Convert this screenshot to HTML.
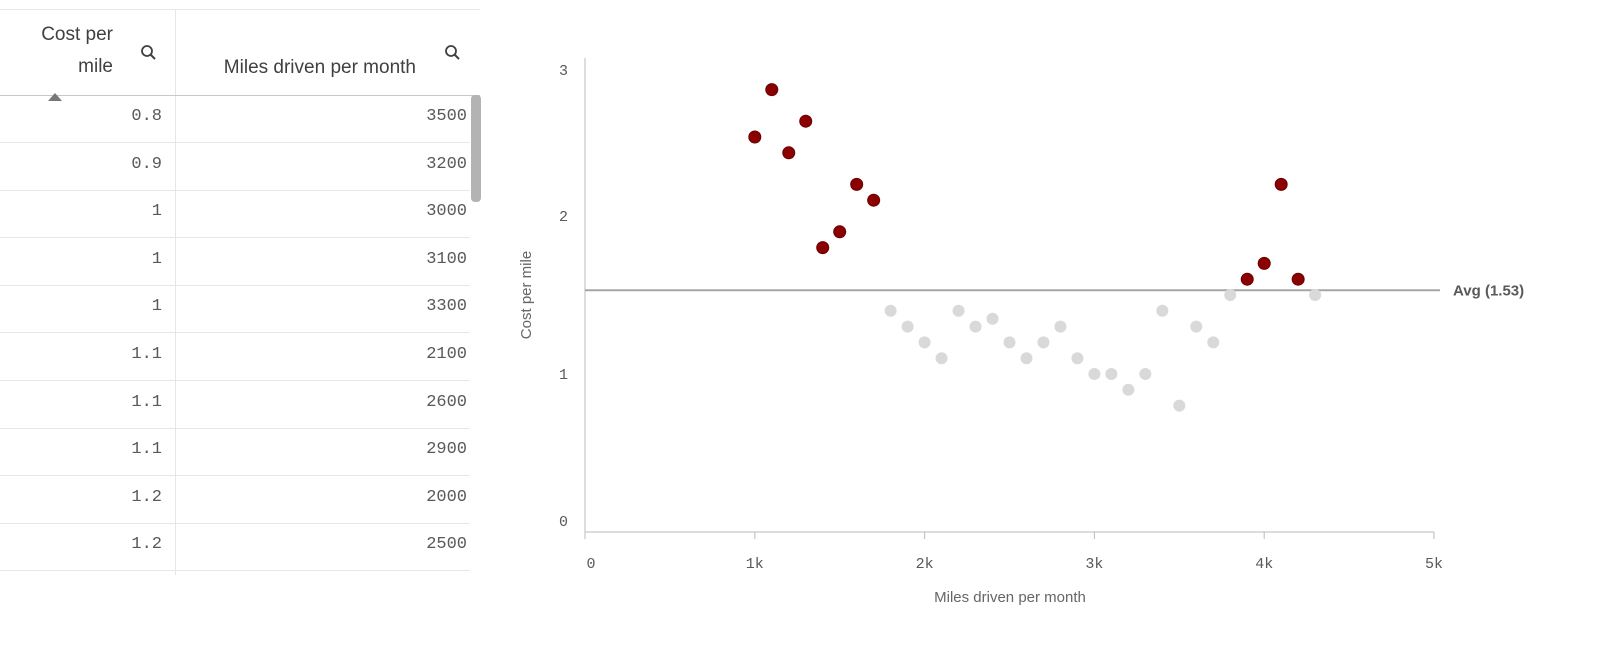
<!DOCTYPE html>
<html><head><meta charset="utf-8"><style>
body{margin:0;width:1612px;height:650px;background:#fff;position:relative;overflow:hidden;font-family:"Liberation Sans",sans-serif;}
.hl{position:absolute;height:1px;background:#e6e6e6;}
.cell{position:absolute;font-family:"Liberation Mono",monospace;font-size:17px;color:#595959;text-align:right;}
.hd{position:absolute;font-size:19px;color:#404040;text-align:right;line-height:32px;}
</style></head><body>
<div>
<div class="hl" style="left:0;top:9px;width:480px;"></div>
<div style="position:absolute;left:175px;top:9px;width:1px;height:566px;background:#e6e6e6"></div>
<div style="position:absolute;left:0;top:95px;width:480px;height:1px;background:#c8c8c8"></div>
<div class="hd" style="left:0;width:113px;top:19px">Cost per<br>mile</div>
<div class="hd" style="left:180px;width:236px;top:52px">Miles driven per month</div>
<svg style="position:absolute;left:140px;top:44px" width="18" height="18"><circle cx="7" cy="7" r="5" fill="none" stroke="#404040" stroke-width="1.8"/><line x1="10.5" y1="10.5" x2="15" y2="15" stroke="#404040" stroke-width="2"/></svg>
<svg style="position:absolute;left:444px;top:44px" width="18" height="18"><circle cx="7" cy="7" r="5" fill="none" stroke="#404040" stroke-width="1.8"/><line x1="10.5" y1="10.5" x2="15" y2="15" stroke="#404040" stroke-width="2"/></svg>
<svg style="position:absolute;left:48px;top:93px" width="14" height="8"><polygon points="0,8 7,0 14,8" fill="#777"/></svg>
<div style="position:absolute;left:471px;top:95px;width:10px;height:107px;background:#b3b3b3;border-radius:4px"></div>
<div id="rows"></div>
</div>
<svg id="chart" style="position:absolute;left:0;top:0" width="1612" height="650"></svg>
<script>
const tableCost=["0.8","0.9","1","1","1","1.1","1.1","1.1","1.2","1.2"];
const tableMiles=["3500","3200","3000","3100","3300","2100","2600","2900","2000","2500"];
const rows=document.getElementById('rows');
for(let i=0;i<tableCost.length;i++){
  const top=95+i*47.6;
  const a=document.createElement('div');a.className='cell';a.style.cssText=`left:0;width:162px;top:${top+12}px`;a.textContent=tableCost[i];
  
  
  rows.appendChild(a);
  const b=document.createElement('div');b.className='cell';b.style.cssText=`left:180px;width:287px;top:${top+12}px`;b.textContent=tableMiles[i];
  
  
  rows.appendChild(b);
  const l=document.createElement('div');l.className='hl';l.style.cssText=`left:0;width:470px;top:${Math.round(top+47)}px`;
  
  
  rows.appendChild(l);
}
const redX=[1000,1100,1200,1300,1400,1500,1600,1700,3900,4000,4100,4200];
const redY=[2.5,2.8,2.4,2.6,1.8,1.9,2.2,2.1,1.6,1.7,2.2,1.6];
const grayX=[1800,1900,2000,2100,2200,2300,2400,2500,2600,2700,2800,2900,3000,3100,3200,3300,3400,3500,3600,3700,3800,4300];
const grayY=[1.4,1.3,1.2,1.1,1.4,1.3,1.35,1.2,1.1,1.2,1.3,1.1,1.0,1.0,0.9,1.0,1.4,0.8,1.3,1.2,1.5,1.5];
const xTicks=[0,1000,2000,3000,4000,5000];
const xTickLabels=["0","1k","2k","3k","4k","5k"];
const yTicks=[0,1,2,3];
const yTickLabels=["0","1","2","3"];
const avgValue=1.53;
const avgLabel="Avg (1.53)";
const X0=585,X1=1434,Y0=532,Y1=58,xMax=5000,yMax=3;
const sx=v=>X0+(X1-X0)*v/xMax, sy=v=>Y0-(Y0-Y1)*v/yMax;
const svg=document.getElementById('chart');const NS='http://www.w3.org/2000/svg';
function mk(t,a,name){const e=document.createElementNS(NS,t);for(const k in a)e.setAttribute(k,a[k]);
  
  
  svg.appendChild(e);return e;}
mk('line',{x1:X0,y1:Y1,x2:X0,y2:Y0,stroke:'#bbb','stroke-width':1},'y-axis-line');
mk('line',{x1:X0,y1:Y0,x2:X1,y2:Y0,stroke:'#bbb','stroke-width':1},'x-axis-line');
yTicks.forEach((v,i)=>{
  let cy=sy(v);
  cy=Math.max(Y1+12,Math.min(Y0-11,cy));
  const t=mk('text',{x:568,y:cy+5,'text-anchor':'end','font-family':'Liberation Mono, monospace','font-size':15,fill:'#595959'},'y-tick-label');t.textContent=yTickLabels[i];});
xTicks.forEach((v,i)=>{mk('line',{x1:sx(v),y1:Y0,x2:sx(v),y2:Y0+7,stroke:'#bbb'},'x-tick');
  const t=mk('text',{x:sx(v)+(i==0?6:0),y:Y0+36,'text-anchor':'middle','font-family':'Liberation Mono, monospace','font-size':15,fill:'#595959'},'x-tick-label');t.textContent=xTickLabels[i];});
let t=mk('text',{x:1010,y:602,'text-anchor':'middle','font-size':15,fill:'#666'},'x-axis-title');t.textContent='Miles driven per month';
t=mk('text',{x:531,y:295,'text-anchor':'middle','font-size':15,fill:'#666',transform:'rotate(-90 531 295)'},'y-axis-title');t.textContent='Cost per mile';
mk('line',{x1:X0,y1:sy(avgValue),x2:1440,y2:sy(avgValue),stroke:'#a6a6a6','stroke-width':2},'avg-reference-line');
t=mk('text',{x:1453,y:sy(avgValue)+5,'font-size':15,fill:'#595959','font-weight':'bold'},'avg-reference-label');t.textContent=avgLabel;
grayX.forEach((x,i)=>mk('circle',{cx:sx(x),cy:sy(grayY[i]),r:6,fill:'#d9d9d9'},'gray-point'));
redX.forEach((x,i)=>mk('circle',{cx:sx(x),cy:sy(redY[i]),r:6,fill:'#8b0000',stroke:'#6a0000','stroke-width':1},'red-point'));
</script>
</body></html>
